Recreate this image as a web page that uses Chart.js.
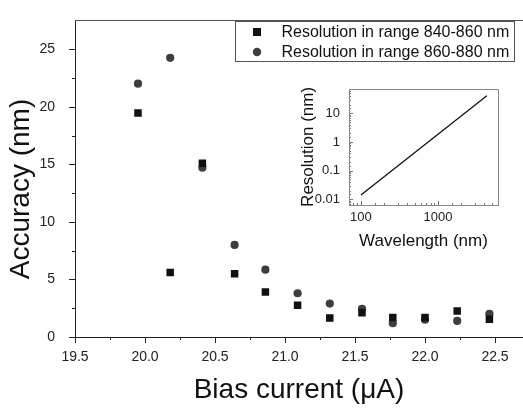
<!DOCTYPE html>
<html>
<head>
<meta charset="utf-8">
<script src="https://cdn.jsdelivr.net/npm/chart.js@4.4.1/dist/chart.umd.min.js"></script>
<style>
  body { margin: 0; background: #fff; }
  #wrap { position: relative; width: 523px; height: 410px; }
  #mainChart { position: absolute; left: 0; top: 0; }
  #insetChart { position: absolute; left: 290px; top: 80px; }
</style>
</head>
<body>
<div id="wrap">
  <canvas id="mainChart" width="523" height="410"></canvas>
  <canvas id="insetChart" width="220" height="180"></canvas>
</div>
<script>
// bias current (uA) for each measurement
const biasCurrent = [19.95, 20.18, 20.41, 20.64, 20.86, 21.09, 21.32, 21.55, 21.77, 22.0, 22.23, 22.46];
// accuracy (nm)
const acc840 = [19.45, 5.6, 15.1, 5.5, 3.9, 2.75, 1.65, 2.1, 1.7, 1.7, 2.25, 1.55];
const acc860 = [22.0, 24.25, 14.7, 8.0, 5.85, 3.8, 2.9, 2.45, 1.2, 1.5, 1.4, 2.0];
const seriesLabels = ['Resolution in range 840-860 nm', 'Resolution in range 860-880 nm'];
// x tick positions (labelled every 0.5)
const xTickValues = [19.5, 19.75, 20.0, 20.25, 20.5, 20.75, 21.0, 21.25, 21.5, 21.75, 22.0, 22.25, 22.5];

// inset: resolution vs wavelength
const insetWavelength = [100, 1000, 4300];
const insetResolution = [0.014, 1.86, 41];

const xTitle = 'Bias current (\u03bcA)';
const yTitle = 'Accuracy (nm)';
const insetXTitle = 'Wavelength (nm)';
const insetYTitle = 'Resolution (nm)';

Chart.defaults.font.family = '"Liberation Sans", Arial, sans-serif';
Chart.defaults.color = '#222';

function pairs(xs, ys) {
  return xs.map(function(x, i) { return {x: x, y: ys[i]}; });
}
function isPow10(v) {
  const l = Math.log10(v);
  return Math.abs(l - Math.round(l)) < 1e-6;
}

// tick marks: long for labelled ticks, short for the others
const tickMarks = {
  id: 'tickMarks',
  afterDraw(chart, args, opts) {
    const ctx = chart.ctx;
    const area = chart.chartArea;
    const dir = opts.inward ? -1 : 1;
    ctx.save();
    ctx.strokeStyle = opts.color;
    ctx.lineWidth = 1;
    ctx.beginPath();
    chart.scales.x.ticks.forEach(function(t) {
      const px = Math.round(chart.scales.x.getPixelForValue(t.value)) + 0.5;
      const len = t.label ? opts.major : opts.minor;
      ctx.moveTo(px, area.bottom);
      ctx.lineTo(px, area.bottom + dir * len);
    });
    chart.scales.y.ticks.forEach(function(t) {
      const py = Math.round(chart.scales.y.getPixelForValue(t.value)) + 0.5;
      const len = t.label ? opts.major : opts.minor;
      ctx.moveTo(area.left, py);
      ctx.lineTo(area.left - dir * len, py);
    });
    ctx.stroke();
    if (opts.frame) {
      ctx.strokeStyle = opts.frame;
      ctx.strokeRect(Math.round(area.left) + 0.5, Math.round(area.top) + 0.5,
        Math.round(area.right - area.left), Math.round(area.bottom - area.top));
    }
    if (opts.topLine) {
      ctx.strokeStyle = opts.topLine;
      ctx.beginPath();
      ctx.moveTo(area.left, Math.round(area.top) + 0.5);
      ctx.lineTo(chart.width, Math.round(area.top) + 0.5);
      ctx.stroke();
    }
    ctx.restore();
  }
};

// legend box and y title of the main plot
const mainDecor = {
  id: 'mainDecor',
  afterDraw(chart) {
    const ctx = chart.ctx;
    ctx.save();
    ctx.strokeStyle = '#555';
    ctx.lineWidth = 1;
    ctx.strokeRect(235.5, 21.5, 279, 40);
    ctx.font = '16px "Liberation Sans", Arial, sans-serif';
    ctx.textBaseline = 'middle';
    chart.data.datasets.forEach(function(ds, i) {
      const y = 32 + i * 20;
      ctx.fillStyle = ds.backgroundColor;
      if (ds.pointStyle === 'rect') {
        ctx.fillRect(253, y - 4, 8, 8);
      } else {
        ctx.beginPath();
        ctx.arc(257, y, 4.2, 0, Math.PI * 2);
        ctx.fill();
      }
      ctx.fillStyle = '#111';
      ctx.fillText(ds.label, 281.5, y + 0.5);
    });
    ctx.translate(21, 189);
    ctx.rotate(-Math.PI / 2);
    ctx.textAlign = 'center';
    ctx.font = '28px "Liberation Sans", Arial, sans-serif';
    ctx.fillStyle = '#111';
    ctx.fillText(yTitle, 0, 0);
    ctx.restore();
  }
};

new Chart(document.getElementById('mainChart'), {
  type: 'scatter',
  data: {
    datasets: [
      {
        label: seriesLabels[0],
        data: pairs(biasCurrent, acc840),
        pointStyle: 'rect',
        pointRadius: 5.3,
        backgroundColor: '#111',
        borderColor: '#111',
        borderWidth: 0
      },
      {
        label: seriesLabels[1],
        data: pairs(biasCurrent, acc860),
        pointStyle: 'circle',
        pointRadius: 4.1,
        backgroundColor: '#3e3e3e',
        borderColor: '#3e3e3e',
        borderWidth: 0
      }
    ]
  },
  options: {
    responsive: false,
    animation: false,
    layout: { autoPadding: false, padding: { top: 4, right: 0, left: 0, bottom: 0 } },
    plugins: {
      legend: { display: false },
      tooltip: { enabled: false },
      tickMarks: { major: 6, minor: 3, inward: false, color: '#222', topLine: '#555' }
    },
    scales: {
      x: {
        type: 'linear',
        min: 19.5,
        max: 22.7,
        afterFit: function(s) { s.height = 73; },
        afterBuildTicks: function(s) {
          s.ticks = xTickValues.map(function(v) { return {value: v}; });
        },
        grid: { display: false },
        border: { color: '#222', width: 1 },
        ticks: {
          autoSkip: false,
          maxRotation: 0,
          padding: 4,
          font: { size: 14 },
          callback: function(v) {
            return Math.abs(v * 2 - Math.round(v * 2)) < 1e-6 ? v.toFixed(1) : '';
          }
        },
        title: {
          display: true,
          text: xTitle,
          color: '#111',
          font: { size: 28 },
          padding: { top: 0, bottom: 3 }
        }
      },
      y: {
        type: 'linear',
        min: 0,
        max: 27.5,
        afterFit: function(s) { s.width = 75; },
        afterBuildTicks: function(s) {
          s.ticks = s.ticks.filter(function(t) { return t.value <= 25; });
        },
        grid: { display: false },
        border: { color: '#222', width: 1 },
        ticks: {
          stepSize: 2.5,
          autoSkip: false,
          padding: 12,
          font: { size: 14 },
          callback: function(v) { return v % 5 === 0 ? String(v) : ''; }
        }
      }
    }
  },
  plugins: [tickMarks, mainDecor]
});

new Chart(document.getElementById('insetChart'), {
  type: 'scatter',
  data: {
    datasets: [{
      data: pairs(insetWavelength, insetResolution),
      showLine: true,
      pointRadius: 0,
      borderColor: '#111',
      borderWidth: 1.3
    }]
  },
  options: {
    responsive: false,
    animation: false,
    layout: { autoPadding: false, padding: { top: 8, right: 12, left: 0, bottom: 0 } },
    plugins: {
      legend: { display: false },
      tooltip: { enabled: false },
      tickMarks: { major: 4, minor: 2, inward: true, color: '#777', frame: '#888' }
    },
    scales: {
      x: {
        type: 'logarithmic',
        min: 70,
        max: 6000,
        afterFit: function(s) { s.height = 55; },
        grid: { display: false },
        border: { display: false },
        ticks: {
          autoSkip: false,
          maxRotation: 0,
          padding: -3,
          font: { size: 13 },
          callback: function(v) { return isPow10(v) ? String(Math.round(v)) : ''; }
        },
        title: {
          display: true,
          text: insetXTitle,
          color: '#111',
          font: { size: 17 },
          padding: { top: 0, bottom: 8 }
        }
      },
      y: {
        type: 'logarithmic',
        min: 0.0063,
        max: 72,
        afterFit: function(s) { s.width = 59; },
        grid: { display: false },
        border: { display: false },
        ticks: {
          autoSkip: false,
          padding: 1,
          font: { size: 13 },
          callback: function(v) {
            if (!isPow10(v)) return '';
            const e = Math.round(Math.log10(v));
            return e < 0 ? v.toFixed(-e) : String(Math.round(v));
          }
        },
        title: {
          display: true,
          text: insetYTitle,
          color: '#111',
          font: { size: 17 },
          padding: { top: 8, bottom: 0 }
        }
      }
    }
  },
  plugins: [tickMarks]
});
</script>
</body>
</html>
